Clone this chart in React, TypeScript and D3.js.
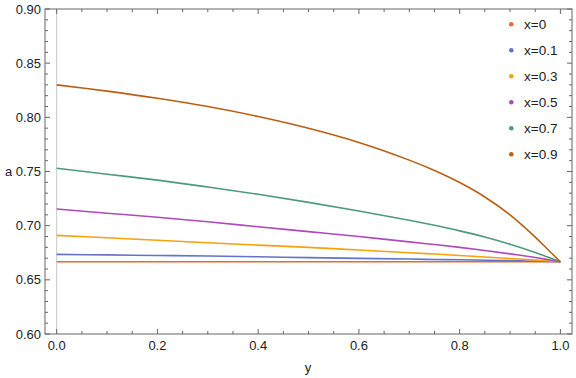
import React from "react";
import * as d3 from "d3";

const yValues = [0, 0.1, 0.2, 0.3, 0.4, 0.5, 0.6, 0.7, 0.75, 0.8, 0.85, 0.9, 0.95, 0.975, 1.0];
const aX0 = [0.6667, 0.6667, 0.6667, 0.6667, 0.6667, 0.6667, 0.6667, 0.6667, 0.6667, 0.6667, 0.6667, 0.6667, 0.6667, 0.6667, 0.6667];
const aX01 = [0.6735, 0.673, 0.6725, 0.672, 0.6713, 0.6705, 0.6698, 0.6692, 0.6688, 0.6685, 0.6681, 0.6677, 0.6672, 0.667, 0.6667];
const aX03 = [0.691, 0.6888, 0.6865, 0.6843, 0.682, 0.68, 0.6775, 0.675, 0.6738, 0.6725, 0.6711, 0.6697, 0.6682, 0.6675, 0.6667];
const aX05 = [0.7154, 0.7115, 0.7077, 0.7036, 0.699, 0.6945, 0.69, 0.685, 0.6826, 0.68, 0.6771, 0.674, 0.6706, 0.6687, 0.6667];
const aX07 = [0.753, 0.7475, 0.742, 0.7357, 0.729, 0.7215, 0.7135, 0.705, 0.7003, 0.6952, 0.6895, 0.6828, 0.6752, 0.671, 0.6667];
const aX09 = [0.83, 0.8242, 0.8176, 0.81, 0.8008, 0.7899, 0.7768, 0.7605, 0.7509, 0.7398, 0.7265, 0.71, 0.6895, 0.678, 0.6667];

const seriesLabels = ["x=0", "x=0.1", "x=0.3", "x=0.5", "x=0.7", "x=0.9"];
const seriesValues = [aX0, aX01, aX03, aX05, aX07, aX09];
const colors = ["#E8692D", "#6373C8", "#F5A20F", "#AE4BBA", "#4D9A7C", "#BC5E12"];

const xMajor = [0, 0.2, 0.4, 0.6, 0.8, 1.0];
const yMajor = [0.6, 0.65, 0.7, 0.75, 0.8, 0.85, 0.9];

const W = 576;
const H = 378;
const FONT = "'Liberation Sans', Arial, sans-serif";

export default function App() {
  const x = d3.scaleLinear().domain([-0.0232, 1.023]).range([45, 572]);
  const y = d3.scaleLinear().domain([0.6, 0.9]).range([334, 9]);
  const [x0, x1] = x.range();
  const [yb, yt] = y.range();

  const xMinor = d3.range(0, 1.0001, 0.05).filter((v) => !xMajor.some((m) => Math.abs(m - v) < 1e-6));
  const yMinor = d3.range(0.6, 0.9001, 0.01).filter((v) => !yMajor.some((m) => Math.abs(m - v) < 1e-6));

  const line = d3
    .line<[number, number]>()
    .x((d) => x(d[0]))
    .y((d) => y(d[1]))
    .curve(d3.curveCatmullRom.alpha(0.5));

  const frame = "#666";
  const majorLen = 5;
  const minorLen = 3;

  return (
    <svg width={W} height={H} style={{ position: "absolute", left: 0, top: 0, background: "#fff" }}>
      <line x1={x(0)} x2={x(0)} y1={yt} y2={yb} stroke="#c8c8c8" strokeWidth={1} />
      {seriesValues.map((vals, i) => (
        <path
          key={i}
          d={line(yValues.map((yy, j) => [yy, vals[j]] as [number, number])) || ""}
          fill="none"
          stroke={colors[i]}
          strokeWidth={1.6}
        />
      ))}
      <rect x={x0} y={yt} width={x1 - x0} height={yb - yt} fill="none" stroke={frame} strokeWidth={1} />
      {xMajor.map((v) => (
        <g key={"xM" + v}>
          <line x1={x(v)} x2={x(v)} y1={yb} y2={yb - majorLen} stroke={frame} />
          <line x1={x(v)} x2={x(v)} y1={yt} y2={yt + majorLen} stroke={frame} />
          <text x={x(v)} y={349.5} textAnchor="middle" fontFamily={FONT} fontSize={13} fill="#222">
            {v.toFixed(1)}
          </text>
        </g>
      ))}
      {xMinor.map((v) => (
        <g key={"xm" + v}>
          <line x1={x(v)} x2={x(v)} y1={yb} y2={yb - minorLen} stroke={frame} />
          <line x1={x(v)} x2={x(v)} y1={yt} y2={yt + minorLen} stroke={frame} />
        </g>
      ))}
      {yMajor.map((v) => (
        <g key={"yM" + v}>
          <line x1={x0} x2={x0 + majorLen} y1={y(v)} y2={y(v)} stroke={frame} />
          <line x1={x1} x2={x1 - majorLen} y1={y(v)} y2={y(v)} stroke={frame} />
          <text x={41} y={y(v) + 4.5} textAnchor="end" fontFamily={FONT} fontSize={13} fill="#222">
            {v.toFixed(2)}
          </text>
        </g>
      ))}
      {yMinor.map((v) => (
        <g key={"ym" + v}>
          <line x1={x0} x2={x0 + minorLen} y1={y(v)} y2={y(v)} stroke={frame} />
          <line x1={x1} x2={x1 - minorLen} y1={y(v)} y2={y(v)} stroke={frame} />
        </g>
      ))}
      <text x={5} y={176} fontFamily={FONT} fontSize={13} fill="#222">
        a
      </text>
      <text x={308} y={372} textAnchor="middle" fontFamily={FONT} fontSize={13} fill="#222">
        y
      </text>
      {seriesLabels.map((lab, i) => (
        <g key={lab}>
          <circle cx={511.3} cy={24.3 + i * 26} r={2.3} fill={colors[i]} />
          <text x={524} y={24.3 + i * 26 + 4.7} fontFamily={FONT} fontSize={13.5} fill="#222">
            {lab}
          </text>
        </g>
      ))}
    </svg>
  );
}
